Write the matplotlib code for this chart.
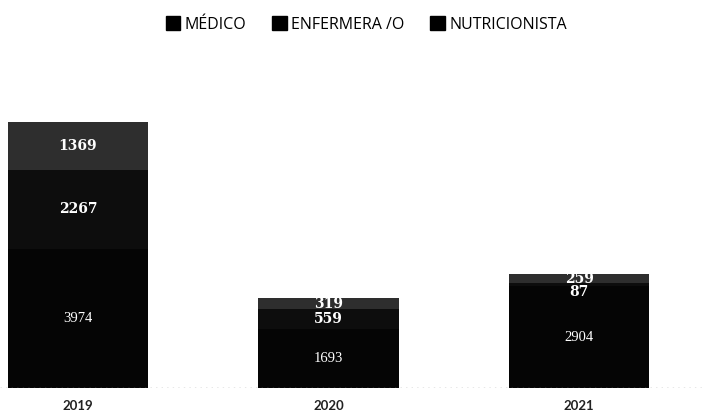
import numpy as np
import matplotlib
matplotlib.use('Agg')
import matplotlib.pyplot as plt
from matplotlib.patches import Patch

years = ['2019', '2020', '2021']
medico = [3974, 1693, 2904]
enfermera = [2267, 559, 87]
nutri = [1369, 319, 259]
series_names = ['MÉDICO', 'ENFERMERA /O', 'NUTRICIONISTA']
colors = ['#050505', '#0d0d0d', '#2e2e2e']

plt.rcParams['font.family'] = ['Lato', 'DejaVu Sans']

fig = plt.figure(figsize=(7.02, 4.16), dpi=100)
ax = fig.add_axes([0, 1 - 388 / 416, 1, 315 / 416])

x = np.arange(len(years))
w = 0.56
ax.bar(x, medico, w, color=colors[0])
ax.bar(x, enfermera, w, bottom=medico, color=colors[1])
bottom3 = np.array(medico) + np.array(enfermera)
ax.bar(x, nutri, w, bottom=bottom3, color=colors[2])

# value labels (small segments: push the lower label down a bit)
for i in range(len(years)):
    ax.text(x[i], medico[i] / 2, str(medico[i]), color='white', ha='center',
            va='center', fontsize=10.5, fontfamily='Liberation Serif')
    if enfermera[i] < 300:
        ax.text(x[i], bottom3[i] - 60, str(enfermera[i]), color='white', ha='center',
                va='top', fontsize=10, fontfamily='DejaVu Serif', fontweight='bold')
    else:
        ax.text(x[i], medico[i] + enfermera[i] / 2, str(enfermera[i]), color='white',
                ha='center', va='center', fontsize=10, fontfamily='DejaVu Serif',
                fontweight='bold')
    ax.text(x[i], bottom3[i] + nutri[i] / 2, str(nutri[i]), color='white',
            ha='center', va='center', fontsize=10, fontfamily='DejaVu Serif', fontweight='bold')

ax.set_xlim(-0.311, 2.49)
ax.set_ylim(0, 9000)
ax.axhline(0, color='#888888', lw=1, ls=(0, (1, 3)))
for s in ax.spines.values():
    s.set_visible(False)
ax.set_yticks([])
ax.set_xticks(x)
ax.set_xticklabels(years, fontsize=9.5, fontweight='bold', color='#222222')
ax.tick_params(axis='x', length=0, pad=9)

handles = [Patch(color='#000000', label=n) for n in series_names]
fig.legend(handles=handles, loc='upper center', bbox_to_anchor=(0.522, 0.995), ncol=3,
           frameon=False, prop={'family': 'Open Sans', 'size': 11.5},
           handlelength=0.9, handleheight=0.9, handletextpad=0.3, columnspacing=1.6)

fig.savefig('out.png', dpi=100)
